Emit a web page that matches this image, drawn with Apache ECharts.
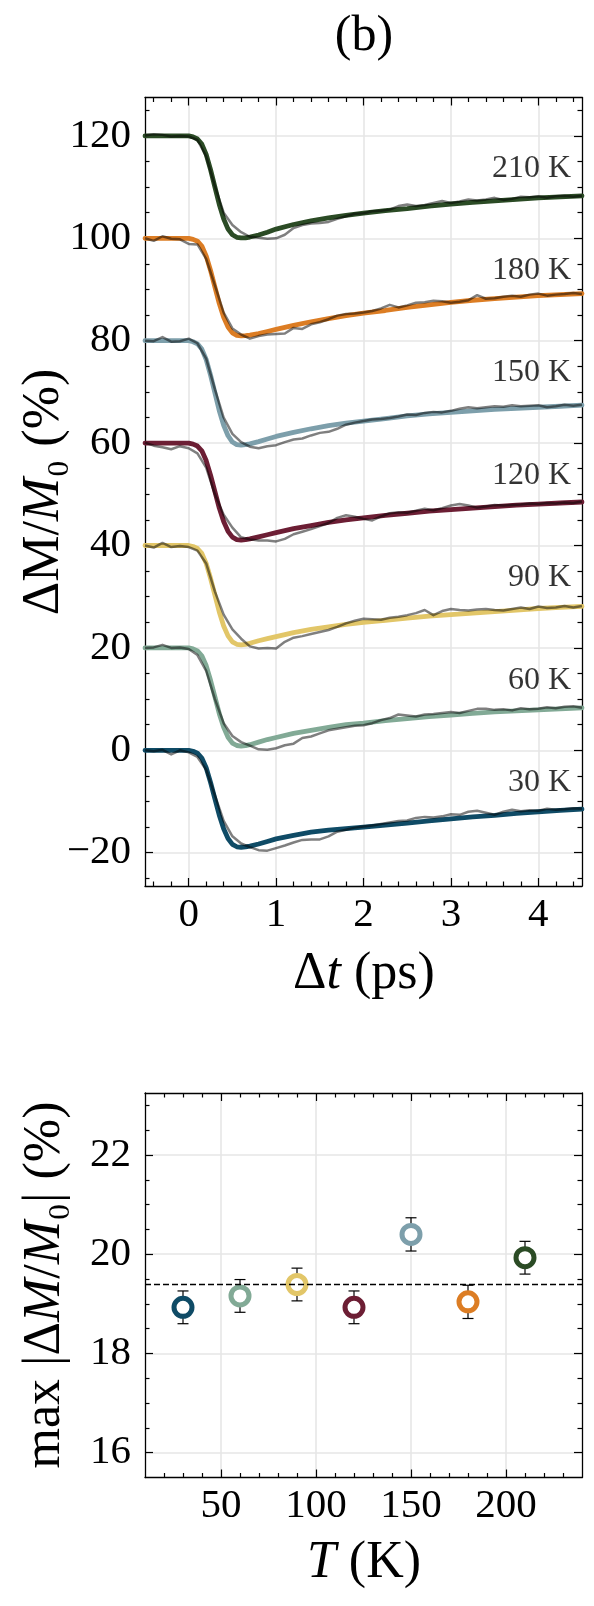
<!DOCTYPE html>
<html><head><meta charset="utf-8">
<script src="https://cdn.jsdelivr.net/npm/echarts@6/dist/echarts.min.js"></script>
<style>html,body{margin:0;padding:0;background:#fff}#c{width:594px;height:1606px}</style>
</head><body><div id="c"></div><script>
// ---------- panel (b) top: time traces ----------
const tFit = [-0.5,-0.3,-0.1,0,0.05,0.1,0.15,0.2,0.25,0.3,0.35,0.4,0.45,0.5,0.55,0.6,0.65,0.7,0.8,0.9,1.0,1.2,1.4,1.6,1.8,2.0,2.25,2.5,2.75,3.0,3.25,3.5,3.75,4.0,4.25,4.5];
const fit30  = [0,0,0,0,-0.19,-0.57,-1.51,-3.41,-6.25,-9.47,-12.68,-15.33,-17.23,-18.36,-18.84,-18.93,-18.85,-18.7,-18.3,-17.8,-17.3,-16.6,-16.0,-15.6,-15.3,-15.0,-14.6,-14.2,-13.8,-13.4,-13.0,-12.7,-12.3,-12.0,-11.75,-11.5];
const fit60  = [20,20,20,20,19.81,19.43,18.47,16.55,13.68,10.42,7.16,4.48,2.56,1.41,0.94,0.84,0.9,1.1,1.6,2.1,2.5,3.3,3.9,4.5,5.0,5.3,5.8,6.2,6.6,6.9,7.2,7.5,7.7,7.9,8.1,8.3];
const fit90  = [40,40,40,40,39.81,39.42,38.45,36.51,33.6,30.3,27.01,24.29,22.35,21.19,20.71,20.61,20.7,20.9,21.4,21.8,22.2,23.0,23.6,24.1,24.6,25.0,25.4,25.8,26.2,26.5,26.8,27.1,27.4,27.7,27.9,28.1];
const fit120 = [60,60,60,60,59.81,59.43,58.49,56.59,53.75,50.54,47.32,44.67,42.77,41.64,41.16,41.07,41.15,41.3,41.7,42.1,42.5,43.3,43.9,44.5,45.0,45.4,45.9,46.3,46.7,47.0,47.3,47.6,47.9,48.1,48.3,48.5];
const fit150 = [80,80,80,80,79.8,79.39,78.37,76.33,73.27,69.8,66.33,63.48,61.44,60.21,59.7,59.6,59.7,59.85,60.3,60.8,61.3,62.1,62.8,63.4,63.9,64.3,64.8,65.3,65.7,66.0,66.3,66.6,66.8,67.0,67.2,67.4];
const fit180 = [100,100,100,100,99.8,99.43,98.48,96.57,93.72,90.48,87.24,84.58,82.67,81.53,81.05,80.96,81.0,81.1,81.4,81.8,82.2,83.0,83.7,84.3,84.9,85.4,85.9,86.5,87.0,87.5,87.9,88.2,88.5,88.8,89.0,89.2];
const fit210 = [120,120,120,120,119.8,119.4,118.4,116.4,113.4,110.0,106.6,103.8,101.8,100.7,100.2,100.07,100.1,100.25,100.65,101.2,101.8,102.7,103.4,104.0,104.5,104.9,105.4,105.8,106.3,106.7,107.0,107.3,107.6,107.9,108.1,108.3];

const tData = [-0.5,-0.4,-0.3,-0.2,-0.1,0,0.1,0.2,0.3,0.4,0.5,0.6,0.7,0.8,0.9,1.0,1.1,1.2,1.3,1.4,1.5,1.6,1.7,1.8,1.9,2.0,2.1,2.2,2.3,2.4,2.5,2.6,2.7,2.8,2.9,3.0,3.1,3.2,3.3,3.4,3.5,3.6,3.7,3.8,3.9,4.0,4.1,4.2,4.3,4.4,4.5];
const data30  = [0.0,-0.2,0.1,-0.8,0.0,-0.4,-1.3,-3.8,-8.8,-13.8,-16.8,-18.2,-18.9,-19.5,-19.6,-19.1,-18.6,-18.0,-17.5,-17.4,-17.4,-16.8,-15.9,-15.5,-15.1,-14.9,-14.7,-14.4,-14.1,-13.8,-13.7,-13.2,-13.0,-13.1,-12.9,-12.5,-12.6,-12.0,-11.8,-12.2,-12.6,-12.0,-11.6,-11.9,-11.7,-11.8,-11.4,-11.6,-11.5,-11.3,-11.4];
const data60  = [20.0,20.1,20.6,20.0,20.1,19.8,18.6,15.5,10.0,5.3,2.8,1.6,0.9,0.2,0.1,0.4,1.0,1.3,2.4,2.7,3.3,3.9,4.2,4.5,4.8,4.9,5.3,5.9,6.3,7.0,6.8,6.6,7.0,7.1,7.3,7.5,7.3,7.7,8.1,8.1,7.9,8.0,7.8,8.2,8.0,8.1,8.4,8.2,8.5,8.6,8.3];
const data90  = [40.0,39.6,40.5,39.7,39.9,39.7,39.0,36.5,31.0,26.5,23.6,21.8,20.3,19.9,20.0,19.9,21.2,22.0,22.3,22.7,23.1,23.5,24.1,24.8,25.3,25.7,25.6,25.5,25.9,26.1,26.4,26.8,27.4,26.4,27.2,27.6,27.4,27.3,27.5,27.6,27.4,27.3,27.6,27.9,27.6,28.1,27.8,27.9,28.2,27.9,28.2];
const data120 = [60.1,59.5,59.2,58.8,59.4,59.0,58.0,55.2,50.0,46.0,43.5,41.6,41.2,41.0,41.0,40.8,41.3,42.2,42.7,43.2,43.8,44.4,45.4,45.9,45.6,45.2,44.9,45.7,46.3,46.5,46.4,46.8,47.2,46.9,47.3,47.8,48.1,47.8,47.4,47.6,47.9,47.8,47.9,48.0,48.2,48.1,48.3,48.2,48.4,48.3,48.6];
const data150 = [80.0,79.9,80.7,79.8,79.9,80.4,79.5,76.5,70.5,65.0,61.8,60.2,59.3,59.0,59.4,59.6,60.2,60.7,60.9,61.5,62.0,62.2,62.8,63.6,64.0,64.3,64.6,64.7,64.9,65.2,65.6,65.5,65.9,66.1,66.0,66.3,66.7,67.0,66.8,67.0,67.2,67.1,67.4,67.2,67.3,67.4,67.0,67.2,67.5,67.3,67.5];
const data180 = [100.0,99.5,100.4,99.9,99.8,98.9,98.8,96.0,90.8,85.5,82.4,81.2,80.4,80.9,81.2,81.3,81.4,82.5,82.3,83.2,83.6,84.2,84.9,85.2,85.3,85.5,85.8,86.3,87.0,86.5,86.9,87.4,87.5,87.8,87.7,87.4,87.6,87.9,88.9,88.2,88.3,88.6,88.8,88.6,89.0,89.2,88.8,89.0,89.1,89.3,89.1];
const data210 = [120.1,120.3,120.2,119.9,120.0,119.9,119.2,116.0,110.2,105.0,102.6,101.2,100.3,100.1,99.9,100.0,100.7,102.0,102.6,102.9,103.0,103.2,103.8,104.3,104.8,104.9,105.3,105.4,105.6,106.3,106.6,106.3,106.5,106.9,107.3,106.9,107.2,107.6,107.4,107.6,107.9,107.5,107.7,108.1,108.0,108.2,107.9,108.2,108.3,108.1,108.3];

const curveLabels = ['30 K','60 K','90 K','120 K','150 K','180 K','210 K'];
const curveOffsets = [0,20,40,60,80,100,120];
const fits = [fit30,fit60,fit90,fit120,fit150,fit180,fit210];
const datas = [data30,data60,data90,data120,data150,data180,data210];
const colors = ['#0f4b66','#82aa96','#e2c668','#6c1e34','#7d9fab','#dc7d24','#2b4b25'];

// ---------- panel (b) bottom: max amplitude ----------
const temps  = [30,60,90,120,150,180,210];
const maxAmp = [18.93,19.16,19.39,18.93,20.40,19.04,19.93];
const ampErr = [0.33,0.33,0.33,0.33,0.335,0.335,0.33];
const meanAmp = 19.40;

// ---------- tick labels ----------
const topXTicks = [0,1,2,3,4];
const topYTicks = [-20,0,20,40,60,80,100,120];
const botXTicks = [50,100,150,200];
const botYTicks = [16,18,20,22];

const F = '"Liberation Serif","Times New Roman",serif';
const TICK_FS = 41;
const TITLE_FS = 52;

function minorList(lo, hi, step, majors) {
  const out = [];
  const n = Math.round((hi - lo) / step);
  for (let k = 0; k <= n; k++) {
    const v = Math.round((lo + k * step) * 1000) / 1000;
    if (!majors.some(m => Math.abs(m - v) < 1e-6)) out.push(v);
  }
  return out;
}
const fmt = v => (v < 0 ? '\u2212' + Math.abs(v) : String(v));

const xAxes = [], yAxes = [];
function addAxis(list, gridIndex, position, min, max, ticks, opt) {
  const a = {
    type: 'value', gridIndex, position, min, max, offset: 0,
    axisLine: { show: !!opt.line, onZero: false, lineStyle: { color: '#000', width: 1.3 } },
    axisTick: { show: true, inside: true, length: opt.len, customValues: ticks, lineStyle: { color: '#000', width: 1.2 } },
    axisLabel: { show: !!opt.labels },
    splitLine: { show: !!opt.split, lineStyle: { color: '#e6e6e6', width: 1.6 } },
    minorTick: { show: false }, minorSplitLine: { show: false },
    axisPointer: { show: false }
  };
  if (opt.labels) {
    a.axisLabel = { show: true, customValues: ticks, formatter: fmt, fontFamily: F, fontSize: TICK_FS, color: '#000', margin: opt.margin };
  }
  list.push(a);
  return list.length - 1;
}
const MAJ = 8, MIN = 4.5;
// grid 0 axes
const gx0 = addAxis(xAxes, 0, 'bottom', -0.5, 4.5, topXTicks, { line: true, len: MAJ, labels: true, split: true, margin: 9 });
addAxis(xAxes, 0, 'bottom', -0.5, 4.5, minorList(-0.4, 4.4, 0.2, topXTicks), { len: MIN });
addAxis(xAxes, 0, 'top', -0.5, 4.5, topXTicks, { line: true, len: MAJ });
addAxis(xAxes, 0, 'top', -0.5, 4.5, minorList(-0.4, 4.4, 0.2, topXTicks), { len: MIN });
const gy0 = addAxis(yAxes, 0, 'left', -26.5, 127.5, topYTicks, { line: true, len: MAJ, labels: true, split: true, margin: 14 });
addAxis(yAxes, 0, 'left', -26.5, 127.5, minorList(-25, 125, 5, topYTicks), { len: MIN });
addAxis(yAxes, 0, 'right', -26.5, 127.5, topYTicks, { line: true, len: MAJ });
addAxis(yAxes, 0, 'right', -26.5, 127.5, minorList(-25, 125, 5, topYTicks), { len: MIN });
// grid 1 axes
const gx1 = addAxis(xAxes, 1, 'bottom', 10, 240, botXTicks, { line: true, len: MAJ, labels: true, split: true, margin: 8 });
addAxis(xAxes, 1, 'bottom', 10, 240, minorList(20, 230, 10, botXTicks), { len: MIN });
addAxis(xAxes, 1, 'top', 10, 240, botXTicks, { line: true, len: MAJ });
addAxis(xAxes, 1, 'top', 10, 240, minorList(20, 230, 10, botXTicks), { len: MIN });
const gy1 = addAxis(yAxes, 1, 'left', 15.5, 23.25, botYTicks, { line: true, len: MAJ, labels: true, split: true, margin: 14 });
addAxis(yAxes, 1, 'left', 15.5, 23.25, minorList(16.5, 23, 0.5, botYTicks), { len: MIN });
addAxis(yAxes, 1, 'right', 15.5, 23.25, botYTicks, { line: true, len: MAJ });
addAxis(yAxes, 1, 'right', 15.5, 23.25, minorList(16.5, 23, 0.5, botYTicks), { len: MIN });

const series = [];
for (let i = 0; i < 7; i++) {
  series.push({
    type: 'line', xAxisIndex: gx0, yAxisIndex: gy0, z: 2,
    data: tFit.map((t, k) => [t, fits[i][k]]),
    showSymbol: false, symbol: 'none', silent: true,
    lineStyle: { color: colors[i], width: 4.8, cap: 'round', join: 'round' }
  });
  series.push({
    type: 'line', xAxisIndex: gx0, yAxisIndex: gy0, z: 3,
    data: tData.map((t, k) => [t, datas[i][k]]),
    showSymbol: false, symbol: 'none', silent: true,
    lineStyle: { color: 'rgba(0,0,0,0.5)', width: 2.5, join: 'round' }
  });
}
const LABEL_T = 4.375, LABEL_DROP = 6.3;
series.push({
  type: 'scatter', xAxisIndex: gx0, yAxisIndex: gy0, z: 5, silent: true,
  symbolSize: 0,
  data: curveLabels.map((s, i) => ({ value: [LABEL_T, curveOffsets[i] - LABEL_DROP], name: s })),
  label: { show: true, position: 'left', distance: 0, formatter: '{b}', fontFamily: F, fontSize: 32, color: '#000' }
});

series.push({
  type: 'custom', xAxisIndex: gx1, yAxisIndex: gy1, z: 3, silent: true,
  data: temps.map((t, i) => [t, maxAmp[i], ampErr[i]]),
  renderItem: function (params, api) {
    const x = api.value(0), y = api.value(1), e = api.value(2);
    const p1 = api.coord([x, y + e]), p2 = api.coord([x, y - e]);
    const c = 5.5;
    const st = { stroke: '#000', lineWidth: 1.2 };
    return { type: 'group', children: [
      { type: 'line', shape: { x1: p1[0], y1: p1[1], x2: p2[0], y2: p2[1] }, style: st },
      { type: 'line', shape: { x1: p1[0] - c, y1: p1[1], x2: p1[0] + c, y2: p1[1] }, style: st },
      { type: 'line', shape: { x1: p2[0] - c, y1: p2[1], x2: p2[0] + c, y2: p2[1] }, style: st }
    ] };
  }
});
series.push({
  type: 'scatter', xAxisIndex: gx1, yAxisIndex: gy1, z: 4, silent: true,
  symbol: 'circle', symbolSize: 18,
  data: temps.map((t, i) => ({ value: [t, maxAmp[i]], itemStyle: { color: '#fff', borderColor: colors[i], borderWidth: 5, opacity: 1 } })),
  itemStyle: { opacity: 1 },
  markLine: {
    silent: true, symbol: 'none', label: { show: false },
    lineStyle: { color: '#000', type: [6, 3], width: 1.4 },
    data: [{ yAxis: meanAmp }]
  }
});

const rs = (fs) => ({ r: { fontFamily: F, fontSize: fs, fill: '#000' }, i: { fontFamily: F, fontSize: fs, fontStyle: 'italic', fill: '#000' } });
const graphic = [
  { type: 'text', x: 364, y: 37, style: { text: '(b)', fontFamily: F, fontSize: 50, fill: '#000', align: 'center', verticalAlign: 'middle' } },
  { type: 'text', x: 364, y: 974, style: { text: '{r|\u0394}{i|t}{r| (ps)}', rich: rs(TITLE_FS), align: 'center', verticalAlign: 'middle' } },
  { type: 'text', x: 44, y: 492, rotation: Math.PI / 2, style: { text: '{r|\u0394M/}{i|M}{r|\u2080 (%)}', rich: rs(TITLE_FS), align: 'center', verticalAlign: 'middle' } },
  { type: 'text', x: 45, y: 1285, rotation: Math.PI / 2, style: { text: '{r|max |\u0394}{i|M}{r|/}{i|M}{r|\u2080| (%)}', rich: rs(TITLE_FS), align: 'center', verticalAlign: 'middle' } },
  { type: 'text', x: 364, y: 1563, style: { text: '{i|T}{r| (K)}', rich: rs(TITLE_FS), align: 'center', verticalAlign: 'middle' } }
];

const chart = echarts.init(document.getElementById('c'), null, { renderer: 'canvas' });
chart.setOption({
  animation: false,
  backgroundColor: '#fff',
  grid: [
    { left: 145, top: 97.5, width: 437, height: 788.5, containLabel: false },
    { left: 145, top: 1093, width: 437, height: 384.5, containLabel: false }
  ],
  xAxis: xAxes,
  yAxis: yAxes,
  series: series,
  graphic: graphic
});
</script></body></html>
